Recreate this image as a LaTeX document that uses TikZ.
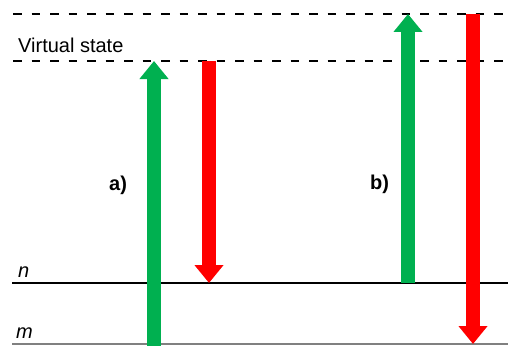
\documentclass[tikz,border=0pt]{standalone}
\usepackage{fontspec}
\setmainfont{Liberation Sans}
\definecolor{pumpgreen}{HTML}{00B050}
\definecolor{stokesred}{HTML}{FF0000}
\definecolor{basegray}{HTML}{808080}
\usetikzlibrary{arrows.meta}

\begin{document}
\begin{tikzpicture}[x=1pt,y=-1pt,
  level/.style={line width=2pt,black},
  virtual/.style={line width=1.8pt,black,dash pattern=on 8.5pt off 10pt},
  fatarrow/.style={line width=14pt,-{Triangle[width=28pt,length=18pt]}},
  lbl/.style={font=\fontsize{20}{24}\selectfont,anchor=base west,inner sep=0pt}]
  \useasboundingbox (0,0) rectangle (508,345);
  % energy levels
  \coordinate (topL) at (13,14);   \coordinate (topR) at (508,14);
  \coordinate (virtL) at (13,61);  \coordinate (virtR) at (508,61);
  \coordinate (nL) at (12,283);    \coordinate (nR) at (508,283);
  \coordinate (mL) at (12,344);    \coordinate (mR) at (508,344);
  \draw[virtual] (topL) -- (topR);
  \draw[virtual] (virtL) -- (virtR);
  \draw[level] (nL) -- (nR);
  \draw[line width=1.5pt,basegray] (mL) -- (mR);
  \node[lbl] (virtlbl) at (18,52.5) {Virtual state};
  \node[lbl] (nlbl) at (18,277) {\itshape n};
  \node[lbl] (mlbl) at (16,338) {\itshape m};
  % case a)
  \node[lbl] (alabel) at (109,190) {\bfseries a)};
  \coordinate (pumpAfoot) at (154,346);
  \coordinate (pumpAtip) at (154,61);
  \coordinate (stokesAfoot) at (209,61);
  \coordinate (stokesAtip) at (209,283);
  \draw[fatarrow,pumpgreen] (pumpAfoot) -- (pumpAtip);
  \draw[fatarrow,stokesred] (stokesAfoot) -- (stokesAtip);
  % case b)
  \node[lbl] (blabel) at (370,189) {\bfseries b)};
  \coordinate (pumpBfoot) at (408,283);
  \coordinate (pumpBtip) at (408,14);
  \coordinate (stokesBfoot) at (473,14);
  \coordinate (stokesBtip) at (473,344);
  \draw[fatarrow,pumpgreen] (pumpBfoot) -- (pumpBtip);
  \draw[fatarrow,stokesred] (stokesBfoot) -- (stokesBtip);
\end{tikzpicture}
\end{document}
